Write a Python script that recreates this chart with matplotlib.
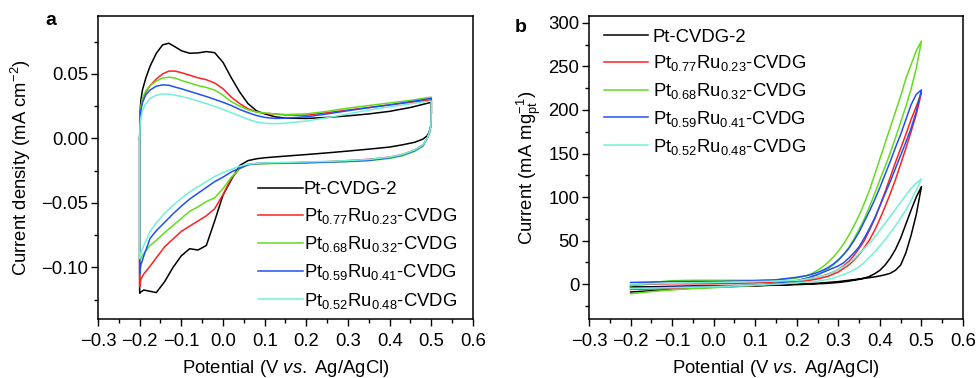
import numpy as np
import matplotlib
matplotlib.use("Agg")
import matplotlib.pyplot as plt
from matplotlib.ticker import MultipleLocator

plt.rcParams["font.family"] = ["Liberation Sans", "DejaVu Sans"]
plt.rcParams["mathtext.fontset"] = "custom"
plt.rcParams["mathtext.rm"] = "Liberation Sans"
plt.rcParams["mathtext.it"] = "Liberation Sans:italic"
plt.rcParams["mathtext.default"] = "regular"
plt.rcParams["axes.unicode_minus"] = True

labels = ["Pt-CVDG-2",
          r"Pt$_{0.77}$Ru$_{0.23}$-CVDG",
          r"Pt$_{0.68}$Ru$_{0.32}$-CVDG",
          r"Pt$_{0.59}$Ru$_{0.41}$-CVDG",
          r"Pt$_{0.52}$Ru$_{0.48}$-CVDG"]
colors = ["#000000", "#ff2020", "#62dd1e", "#2050f5", "#74f0d6"]

# ---- panel a: CV in acid (mA cm^-2) ----
E_up = [-0.2, -0.199, -0.197, -0.193, -0.185, -0.175, -0.16, -0.145, -0.13, -0.115,
        -0.1, -0.08, -0.06, -0.04, -0.02, 0.0, 0.02, 0.04, 0.06, 0.08,
        0.1, 0.125, 0.15, 0.2, 0.25, 0.3, 0.35, 0.4, 0.45, 0.5]
j_up_black = [0.0, 0.02, 0.03, 0.038, 0.047, 0.056, 0.066, 0.0725, 0.0738, 0.071,
              0.068, 0.066, 0.0663, 0.0673, 0.0665, 0.059, 0.047, 0.036, 0.027, 0.0215,
              0.019, 0.0168, 0.0157, 0.0155, 0.0163, 0.0175, 0.019, 0.021, 0.024, 0.028]
j_up_red = [0.0, 0.015, 0.024, 0.030, 0.036, 0.041, 0.046, 0.050, 0.0522, 0.0522,
            0.051, 0.049, 0.047, 0.0455, 0.043, 0.0385, 0.032, 0.027, 0.023, 0.0205,
            0.0195, 0.019, 0.0182, 0.018, 0.020, 0.022, 0.024, 0.026, 0.028, 0.030]
j_up_green = [0.0, 0.016, 0.025, 0.031, 0.037, 0.041, 0.0445, 0.0468, 0.0475, 0.0468,
              0.045, 0.043, 0.041, 0.0395, 0.0375, 0.0335, 0.0285, 0.025, 0.0222, 0.0205,
              0.0197, 0.019, 0.0185, 0.019, 0.021, 0.0235, 0.0255, 0.0275, 0.0295, 0.032]
j_up_blue = [0.0, 0.014, 0.022, 0.028, 0.034, 0.0375, 0.0405, 0.0415, 0.0412, 0.0398,
             0.0385, 0.0365, 0.0345, 0.0325, 0.0303, 0.028, 0.0255, 0.0225, 0.020, 0.0178,
             0.0163, 0.0155, 0.0157, 0.0168, 0.019, 0.0215, 0.0238, 0.026, 0.0285, 0.031]
j_up_cyan = [0.0, 0.010, 0.016, 0.022, 0.027, 0.031, 0.0335, 0.0345, 0.0343, 0.0335,
             0.0325, 0.031, 0.029, 0.027, 0.0248, 0.0225, 0.020, 0.0175, 0.0148, 0.0128,
             0.0117, 0.0114, 0.0118, 0.0135, 0.016, 0.019, 0.022, 0.0245, 0.0268, 0.029]

E_dn = [0.5, 0.499, 0.495, 0.49, 0.48, 0.46, 0.43, 0.4, 0.35, 0.3,
        0.25, 0.2, 0.15, 0.1, 0.08, 0.06, 0.04, 0.02, 0.0, -0.02,
        -0.04, -0.06, -0.08, -0.1, -0.12, -0.14, -0.16, -0.175, -0.19, -0.197, -0.2]
j_dn_black = [0.02, 0.010, 0.005, 0.002, -0.0005, -0.003, -0.005, -0.0067, -0.0083, -0.0098,
              -0.0112, -0.0125, -0.0137, -0.015, -0.0158, -0.0172, -0.021, -0.032, -0.044, -0.064,
              -0.083, -0.0865, -0.0855, -0.091, -0.100, -0.111, -0.1195, -0.1185, -0.1175, -0.119, -0.12]
j_dn_red = [0.02, 0.010, 0.004, 0.0, -0.005, -0.009, -0.0125, -0.0145, -0.0162, -0.0172,
            -0.018, -0.0185, -0.019, -0.0193, -0.0195, -0.020, -0.0235, -0.031, -0.0435, -0.0545,
            -0.060, -0.064, -0.068, -0.072, -0.078, -0.084, -0.0925, -0.099, -0.105, -0.109, -0.115]
j_dn_green = [0.02, 0.010, 0.004, 0.0, -0.006, -0.010, -0.0135, -0.0155, -0.0172, -0.018,
              -0.0185, -0.019, -0.0193, -0.0196, -0.0198, -0.020, -0.0235, -0.030, -0.039, -0.046,
              -0.049, -0.053, -0.0565, -0.062, -0.0675, -0.073, -0.079, -0.083, -0.089, -0.093, -0.095]
j_dn_blue = [0.02, 0.010, 0.004, 0.0, -0.0055, -0.0095, -0.013, -0.015, -0.017, -0.0178,
             -0.0183, -0.0188, -0.019, -0.0193, -0.0195, -0.0205, -0.023, -0.026, -0.030, -0.0335,
             -0.038, -0.0425, -0.047, -0.0525, -0.0585, -0.065, -0.0715, -0.0775, -0.091, -0.098, -0.105]
j_dn_cyan = [0.02, 0.010, 0.004, 0.0, -0.005, -0.009, -0.0125, -0.0145, -0.0163, -0.0172,
             -0.0178, -0.0182, -0.0186, -0.019, -0.0193, -0.020, -0.0215, -0.024, -0.0265, -0.0295,
             -0.0335, -0.0375, -0.0415, -0.0465, -0.052, -0.058, -0.0655, -0.072, -0.083, -0.089, -0.093]

# ---- panel b: methanol oxidation (mA mg_pt^-1) ----
E_fw = [-0.2, -0.15, -0.1, -0.05, 0.0, 0.05, 0.1, 0.15,
        0.2, 0.2125, 0.225, 0.2375, 0.25, 0.2625, 0.275, 0.2875, 0.3, 0.3125,
        0.325, 0.3375, 0.35, 0.3625, 0.375, 0.3875, 0.4, 0.4125, 0.425, 0.4375,
        0.45, 0.4625, 0.475, 0.4875, 0.5]
i_fw_black = [-9, -7.5, -6, -4.5, -3.5, -2.5, -2, -1,
              0, 0.3, 0.5, 0.8, 1, 1.5, 2, 2.5, 3, 3.7,
              4.5, 5.2, 6, 6.7, 7.5, 8.4, 9.5, 10.8, 12.5, 16,
              22, 36, 56, 80, 112]
i_fw_red = [-6, -5.5, -5, -4, -3.5, -2.5, -1.5, 0,
            2, 3, 4, 5, 6, 7.5, 9, 11.5, 14, 18,
            22, 27.5, 34, 42, 51, 62, 75, 89, 104, 120,
            138, 156, 175, 195, 220]
i_fw_green = [-11, -8.5, -6.5, -5, -4, -3, -1.5, 1,
              4, 5.5, 7, 9, 11, 14, 17.5, 22, 27, 34,
              42, 52, 63, 75, 89, 104, 120, 135, 151, 168,
              186, 204, 224, 248, 279]
i_fw_blue = [-4, -4, -3.5, -3, -2.5, -2, -1, 1,
             4, 5.5, 7, 9, 11, 13.5, 16, 18.5, 21, 24.5,
             30, 36, 43, 53, 64, 76, 90, 104, 118, 133,
             148, 163, 179, 198, 223]
i_fw_cyan = [-5, -4.5, -4, -3.5, -3, -2, -1, 0,
             1.5, 2, 2.5, 3, 3.5, 4.5, 5.5, 7, 9, 11,
             13.5, 16.5, 20, 25, 31, 37, 44, 51, 59, 67,
             76, 85, 96, 108, 121]

E_bw = E_fw[::-1]
i_bw_black = [112, 100, 85, 69, 53, 40, 30, 22, 16, 12, 9, 7, 5.5,
              4.5, 3.5, 2.7, 2, 1.5, 1, 0.7, 0.5, 0.2, 0, -0.3, -0.5,
              -1, -1.5, -1.5, -2, -2, -2.5, -3, -3]
i_bw_red = [220, 204, 189, 172, 156, 140, 123, 106, 90, 75, 62, 50, 41,
            33, 26, 21, 17, 14, 11.5, 9.5, 8, 7, 6, 5, 4,
            2.5, 1.5, 1, 0.5, 0.5, 0.5, 0, -1]
i_bw_green = [279, 268, 252, 236, 216, 198, 180, 162, 144, 126, 108, 93, 79,
              67, 56, 46, 38, 31, 25, 20, 16, 12.5, 10, 8.5, 7,
              5, 4.5, 4.5, 4.5, 4.5, 4, 2, -2]
i_bw_blue = [223, 218, 206, 189, 172, 157, 141, 126, 111, 97, 84, 72, 60,
             50, 41, 34, 28, 23, 19, 16, 13.5, 11.5, 10, 9, 8,
             5, 4, 3.5, 3, 3, 3, 2.5, 2]
i_bw_cyan = [121, 116, 110, 102, 94, 86, 78, 70, 62, 54, 47, 41, 35,
             29, 24, 20, 17, 14, 11, 9.5, 8, 7, 6, 5, 4.5,
             3.5, 3, 2.5, 2, 1.5, 1, 0.5, 0]

a_up = [j_up_black, j_up_red, j_up_green, j_up_blue, j_up_cyan]
a_dn = [j_dn_black, j_dn_red, j_dn_green, j_dn_blue, j_dn_cyan]
b_fw = [i_fw_black, i_fw_red, i_fw_green, i_fw_blue, i_fw_cyan]
b_bw = [i_bw_black, i_bw_red, i_bw_green, i_bw_blue, i_bw_cyan]

fig = plt.figure(figsize=(9.76, 3.78), dpi=100)
ax1 = fig.add_axes([0.1004, 0.156, 0.3842, 0.802])
ax2 = fig.add_axes([0.6035, 0.156, 0.3832, 0.802])

fs = 13.3
for k in range(5):
    x = E_up + E_dn + [E_up[0]]
    y = a_up[k] + a_dn[k] + [a_up[k][0]]
    ax1.plot(x, y, color=colors[k], lw=1.1, label=labels[k])
    x = E_fw + E_bw
    y = b_fw[k] + b_bw[k]
    ax2.plot(x, y, color=colors[k], lw=1.1, label=labels[k])

for ax in (ax1, ax2):
    ax.set_xlim(-0.3, 0.6)
    ax.xaxis.set_major_locator(MultipleLocator(0.1))
    ax.xaxis.set_minor_locator(MultipleLocator(0.05))
    ax.tick_params(which="both", direction="out", top=False, right=False,
                   labelsize=fs, width=1.0)
    ax.tick_params(which="major", length=5)
    ax.tick_params(which="minor", length=3)
    ax.tick_params(axis="x", pad=5)
    ax.tick_params(axis="y", pad=2)
    for s in ax.spines.values():
        s.set_linewidth(1.1)
    ax.set_xlabel(r"Potential (V $\mathit{vs.}$ Ag/AgCl)", fontsize=fs, labelpad=5.5)
    ax.set_xticks(np.arange(-0.3, 0.61, 0.1))
    ax.set_xticklabels(["\u22120.3", "\u22120.2", "\u22120.1", "0.0", "0.1",
                        "0.2", "0.3", "0.4", "0.5", "0.6"])

ax1.set_ylim(-0.14, 0.095)
ax1.yaxis.set_major_locator(MultipleLocator(0.05))
ax1.yaxis.set_minor_locator(MultipleLocator(0.025))
ax1.yaxis.set_major_formatter(lambda v, p: f"{v:.2f}".replace("-", "\u2212"))
ax1.set_ylabel(r"Current density (mA cm$^{-2}$)", fontsize=fs, labelpad=6)

ax2.set_ylim(-40, 308)
ax2.yaxis.set_major_locator(MultipleLocator(50))
ax2.yaxis.set_minor_locator(MultipleLocator(25))
ax2.set_ylabel(r"Current (mA mg$_{pt}^{-1}$)", fontsize=fs, labelpad=4)

ax1.legend(loc="upper left", bbox_to_anchor=(0.428, 0.455), frameon=False,
           fontsize=fs, handlelength=2.4, handletextpad=0.05, labelspacing=0.44,
           borderpad=0, borderaxespad=0)
ax2.legend(loc="upper left", bbox_to_anchor=(0.041, 0.958), frameon=False,
           fontsize=fs, handlelength=2.35, handletextpad=0.27, labelspacing=0.42,
           borderpad=0, borderaxespad=0)

fig.text(0.047, 0.934, "a", fontsize=14, fontweight="bold", va="baseline")
fig.text(0.527, 0.915, "b", fontsize=14, fontweight="bold", va="baseline")

fig.savefig("out.png", dpi=100)
